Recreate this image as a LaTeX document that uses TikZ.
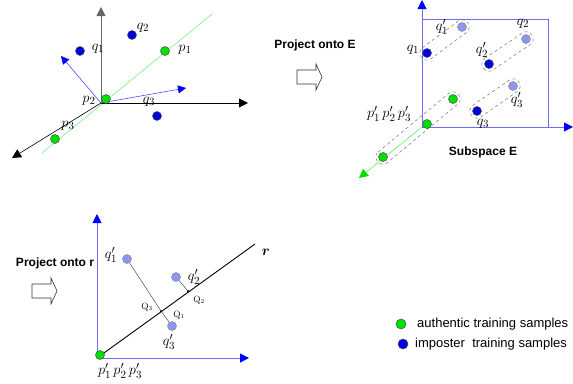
\documentclass[tikz,border=0pt]{standalone}
\usepackage{amsmath,amssymb}
\usepackage{fontspec}
\setsansfont{Liberation Sans}
\usepackage{tikz}
\usetikzlibrary{positioning,calc,arrows.meta}
\definecolor{authgreen}{HTML}{00E000}
\definecolor{impblue}{HTML}{0000E0}
\definecolor{projblue}{HTML}{8C96F0}
\definecolor{axisblue}{HTML}{6E6EF5}
\definecolor{lightgreen}{HTML}{7CF07C}
\tikzset{
  auth/.style={draw=black!70, circle, fill=authgreen, minimum size=9pt, inner sep=0pt, line width=0.5pt},
  imp/.style={draw=black!70, circle, fill=impblue, minimum size=9pt, inner sep=0pt, line width=0.5pt},
  proj/.style={draw=black!45, circle, fill=projblue, minimum size=9pt, inner sep=0pt, line width=0.5pt},
  foot/.style={circle, fill=black, minimum size=2.5pt, inner sep=0pt},
  lbl/.style={inner sep=0pt, font=\fontsize{15}{17}\selectfont},
  smalllbl/.style={inner sep=0pt, font=\small},
  caption/.style={inner sep=0pt, font=\sffamily\bfseries\fontsize{12}{14}\selectfont},
  legendtext/.style={inner sep=0pt, anchor=west, font=\sffamily\fontsize{13}{15}\selectfont},
  axis/.style={line width=1pt, -{Triangle[length=9pt, width=9pt]}},
  baxis/.style={axisblue, line width=1pt, -{Triangle[length=9pt, width=9pt, fill=blue, color=blue]}},
  vec/.style={blue!70, line width=0.6pt, -{Triangle[length=8pt, width=8pt, fill=blue, color=blue]}},
  capsule/.style={draw=black!55, dashed, line width=0.5pt, rounded corners=6.5pt},
  hollow/.style={draw=black!80, fill=white, line width=0.6pt},
  perp/.style={draw=black!70, line width=0.5pt}
}
\newcommand{\drawcapsule}[2]{%
  \draw[capsule] ($(#1.center)!-7pt!(#2.center)!7pt!90:(#2.center)$)
    -- ($(#2.center)!-7pt!(#1.center)!7pt!-90:(#1.center)$)
    -- ($(#2.center)!-7pt!(#1.center)!7pt!90:(#1.center)$)
    -- ($(#1.center)!-7pt!(#2.center)!7pt!-90:(#2.center)$) -- cycle;}
% hollow block arrow: left end of body, body half height, length of body, head half height, head length
\newcommand{\blockarrow}[1]{%
  \draw[hollow] (#1) ++(0,-7) -- ++(19,0) -- ++(0,-6) -- ++(6,13) -- ++(-6,13) -- ++(0,-6) -- ++(-19,0) -- cycle;}

\begin{document}
\begin{tikzpicture}[x=1pt, y=-1pt]
  \useasboundingbox (0,0) rectangle (573,383);

  % original space
  \coordinate (o) at (101,103);
  \coordinate (ga) at (42,153);
  \coordinate (gb) at (212,14);
  \draw[lightgreen, line width=0.6pt] (ga) -- (gb);
  \draw[axis, black!60] (o) -- (101,7);
  \draw[axis] (o) -- (248,103);
  \draw[axis, line width=0.6pt] (o) -- (12,158);
  \draw[vec] (o) -- (61,56);
  \draw[vec] (o) -- (186,88);
  \node[auth] (p1) at (165,51) {};
  \node[auth] (p2) at (106,99) {};
  \node[auth] (p3) at (55,139) {};
  \node[imp] (q1) at (80,51) {};
  \node[imp] (q2) at (132,35) {};
  \node[imp] (q3) at (157,116) {};
  \node[lbl] at (98,49) {$q_1$};
  \node[lbl] at (143,28) {$q_2$};
  \node[lbl] at (149,102) {$q_3$};
  \node[lbl] at (185,50) {$p_1$};
  \node[lbl] at (89,101) {$p_2$};
  \node[lbl] at (68,126) {$p_3$};

  % projection onto E
  \node[caption] (capE) at (315,45) {Project onto E};
  \coordinate (arrE) at (297,77);
  \blockarrow{arrE}
  \coordinate (oe) at (422,127);
  \draw[axisblue, line width=0.8pt] (oe) -- (422,19) -- (548,19) -- (548,127);
  \draw[lightgreen, line width=0.8pt, -{Triangle[length=9pt, width=9pt, fill=authgreen, color=authgreen]}] (oe) -- (359,178);
  \draw[baxis] (oe) -- (422,0);
  \draw[baxis] (oe) -- (573,127);
  \node[auth] (e0) at (427,124) {};
  \node[auth] (e1) at (453,99) {};
  \node[auth] (e2) at (383,157) {};
  \node[imp] (eq1) at (427,53) {};
  \node[proj] (ep1) at (462,27) {};
  \node[imp] (eq2) at (489,64) {};
  \node[proj] (ep2) at (526,39) {};
  \node[imp] (eq3) at (477,111) {};
  \node[proj] (ep3) at (513,86) {};
  \drawcapsule{eq1}{ep1}
  \drawcapsule{eq2}{ep2}
  \drawcapsule{eq3}{ep3}
  \drawcapsule{e2}{e1}
  \node[lbl] at (442,27) {$q'_1$};
  \node[lbl] at (413,50) {$q_1$};
  \node[lbl] at (523,24) {$q_2$};
  \node[lbl] at (482,50) {$q'_2$};
  \node[lbl] at (517,100) {$q'_3$};
  \node[lbl] at (483,124) {$q_3$};
  \node[lbl] at (389,114) {$p'_1\,p'_2\,p'_3$};
  \node[caption] (subE) at (483,152) {Subspace E};

  % projection onto r
  \node[caption] (capr) at (55,263) {Project onto r};
  \coordinate (arrr) at (32,291);
  \blockarrow{arrr}
  \coordinate (or) at (97,358);
  \coordinate (rend) at (255,244);
  \draw[baxis] (or) -- (97,214);
  \draw[baxis] (or) -- (249,358);
  \draw[line width=0.9pt] (or) -- (rend);
  \node[auth] (r0) at (100,355) {};
  \node[proj] (rq1) at (127,259) {};
  \node[proj] (rq2) at (176,277) {};
  \node[proj] (rq3) at (172,326) {};
  \node[foot] (f13) at (161,311) {};
  \node[foot] (f2) at (188,291) {};
  \draw[perp] (rq1) -- (f13) -- (rq3);
  \draw[perp] (rq2) -- (f2);
  \node[lbl] at (111,255) {$q'_1$};
  \node[lbl] at (194,277) {$q'_2$};
  \node[lbl] at (169,342) {$q'_3$};
  \node[lbl] at (120,371) {$p'_1\,p'_2\,p'_3$};
  \node[smalllbl] at (147,307) {$\mathrm{Q}_3$};
  \node[smalllbl] at (179,315) {$\mathrm{Q}_1$};
  \node[smalllbl] at (199,300) {$\mathrm{Q}_2$};
  \node[lbl, font=\Large] at (266,252) {$\boldsymbol{r}$};

  % legend
  \node[auth, minimum size=10pt] (la) at (401,324) {};
  \node[imp, minimum size=10pt] (li) at (403,344) {};
  \node[legendtext] at (417,324) {authentic training samples};
  \node[legendtext] at (415,344) {imposter\ \ training samples};
\end{tikzpicture}
\end{document}
